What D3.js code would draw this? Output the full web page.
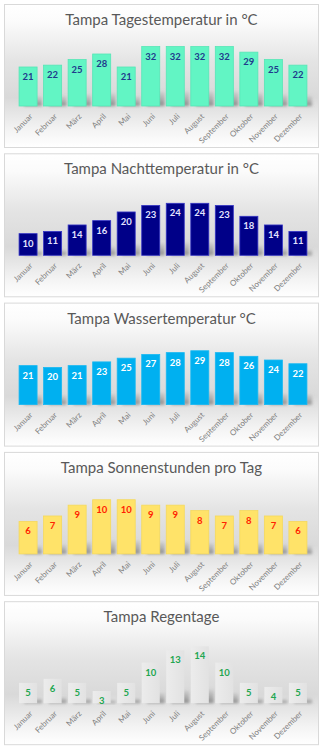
<!DOCTYPE html>
<html>
<head>
  <meta charset="utf-8">
  <title>Tampa Klima</title>
  <script src="https://d3js.org/d3.v7.min.js"></script>
  <style>
    body { margin: 0; background: #fff; }
    svg { display: block; }
  </style>
</head>
<body>
  <svg width="323" height="750"></svg>
  <script>
    var monate = ["Januar", "Februar", "März", "April", "Mai", "Juni", "Juli",
                  "August", "September", "Oktober", "November", "Dezember"];

    var tagesTemp   = [21, 22, 25, 28, 21, 32, 32, 32, 32, 29, 25, 22];
    var nachtTemp   = [10, 11, 14, 16, 20, 23, 24, 24, 23, 18, 14, 11];
    var wasserTemp  = [21, 20, 21, 23, 25, 27, 28, 29, 28, 26, 24, 22];
    var sonnenStd   = [6, 7, 9, 10, 10, 9, 9, 8, 7, 8, 7, 6];
    var regenTage   = [5, 6, 5, 3, 5, 10, 13, 14, 10, 5, 4, 5];

    var titel = ["Tampa Tagestemperatur in °C", "Tampa Nachttemperatur in °C",
                 "Tampa Wassertemperatur °C", "Tampa Sonnenstunden pro Tag",
                 "Tampa Regentage"];
    var achsenMax = [35, 30, 35, 12, 16];

    var charts = [
      {title: titel[0], values: tagesTemp,  max: achsenMax[0], fill: "#62f5c4", stroke: "#55e6b6", label: "#1f3a8c"},
      {title: titel[1], values: nachtTemp,  max: achsenMax[1], fill: "#000088", stroke: "#3434c4", label: "#e4e4ff"},
      {title: titel[2], values: wasserTemp, max: achsenMax[2], fill: "#00b0f0", stroke: "#19b8f2", label: "#ffffff"},
      {title: titel[3], values: sonnenStd,  max: achsenMax[3], fill: "#ffe369", stroke: "#f5d95c", label: "#ff2200"},
      {title: titel[4], values: regenTage,  max: achsenMax[4], fill: "url(#regenFill)", stroke: "none", label: "#22a650"}
    ];

    var svg = d3.select("svg");
    var defs = svg.append("defs");

    var bg = defs.append("linearGradient").attr("id", "bg")
        .attr("x1", 0).attr("y1", 0).attr("x2", 0).attr("y2", 1);
    bg.append("stop").attr("offset", "0%").attr("stop-color", "#ffffff");
    bg.append("stop").attr("offset", "12%").attr("stop-color", "#fbfbfb");
    bg.append("stop").attr("offset", "40%").attr("stop-color", "#e4e4e4");
    bg.append("stop").attr("offset", "65%").attr("stop-color", "#d9d9d9");
    bg.append("stop").attr("offset", "88%").attr("stop-color", "#f4f4f4");
    bg.append("stop").attr("offset", "100%").attr("stop-color", "#ffffff");

    var sh = defs.append("linearGradient").attr("id", "shadowFill")
        .attr("x1", 0).attr("y1", 0).attr("x2", 0).attr("y2", 1);
    sh.append("stop").attr("offset", "0%").attr("stop-color", "#8a8a8a").attr("stop-opacity", 0.1);
    sh.append("stop").attr("offset", "100%").attr("stop-color", "#7a7a7a").attr("stop-opacity", 0.85);

    var rf = defs.append("linearGradient").attr("id", "regenFill")
        .attr("x1", 0).attr("y1", 0).attr("x2", 1).attr("y2", 0);
    rf.append("stop").attr("offset", "0%").attr("stop-color", "#ececec");
    rf.append("stop").attr("offset", "100%").attr("stop-color", "#e2e2e2");

    defs.append("filter").attr("id", "blur")
        .attr("x", "-50%").attr("y", "-50%").attr("width", "200%").attr("height", "200%")
      .append("feGaussianBlur").attr("stdDeviation", 1.6);

    var panelW = 314, panelH = 143, panelStep = 149.3;
    var baseY = 102, topY = 37;

    var x = d3.scaleBand()
        .domain(monate)
        .range([11.75, 306.25])
        .paddingInner(0.265)
        .paddingOuter(0.135);

    charts.forEach(function(c, i) {
      var g = svg.append("g")
          .attr("transform", "translate(4," + (4 + i * panelStep) + ")");

      g.append("rect")
          .attr("x", 0.5).attr("y", 0.5)
          .attr("width", panelW).attr("height", panelH)
          .attr("fill", "url(#bg)")
          .attr("stroke", "#d9d9d9");

      g.append("text")
          .attr("x", panelW / 2 + 0.5).attr("y", 21)
          .attr("text-anchor", "middle")
          .style("font-family", "Lato, 'Open Sans', sans-serif")
          .style("font-size", "15px")
          .attr("fill", "#595959")
          .text(c.title);

      var y = d3.scaleLinear().domain([0, c.max]).range([baseY, topY]);

      // soft shadow behind each bar
      g.selectAll(".shadow")
        .data(c.values)
        .enter().append("rect")
          .attr("class", "shadow")
          .attr("x", function(d, j) { return x(monate[j]) + 5; })
          .attr("y", function(d) { return baseY - (baseY - y(d)) * 0.25; })
          .attr("width", x.bandwidth())
          .attr("height", function(d) { return (baseY - y(d)) * 0.25; })
          .attr("fill", "url(#shadowFill)")
          .attr("filter", "url(#blur)");

      g.selectAll(".bar")
        .data(c.values)
        .enter().append("rect")
          .attr("class", "bar")
          .attr("x", function(d, j) { return x(monate[j]); })
          .attr("y", function(d) { return y(d); })
          .attr("width", x.bandwidth())
          .attr("height", function(d) { return baseY - y(d); })
          .attr("fill", c.fill)
          .attr("stroke", c.stroke)
          .attr("stroke-width", 0.8);

      g.selectAll(".val")
        .data(c.values)
        .enter().append("text")
          .attr("class", "val")
          .attr("x", function(d, j) { return x(monate[j]) + x.bandwidth() / 2; })
          .attr("y", function(d) { return y(d) + 13; })
          .attr("text-anchor", "middle")
          .style("font-family", "Lato, 'Open Sans', sans-serif")
          .style("font-size", "9.5px")
          .style("font-weight", "bold")
          .attr("fill", c.label)
          .text(function(d) { return d; });

      g.selectAll(".monat")
        .data(monate)
        .enter().append("text")
          .attr("class", "monat")
          .attr("transform", function(d) {
            return "translate(" + (x(d) + x.bandwidth() / 2 + 3) + "," + (baseY + 9) + ") rotate(-45)";
          })
          .attr("text-anchor", "end")
          .attr("dy", "0.35em")
          .style("font-family", "Lato, 'Open Sans', sans-serif")
          .style("font-size", "8px")
          .attr("fill", "#808080")
          .text(function(d) { return d; });
    });
  </script>
</body>
</html>
